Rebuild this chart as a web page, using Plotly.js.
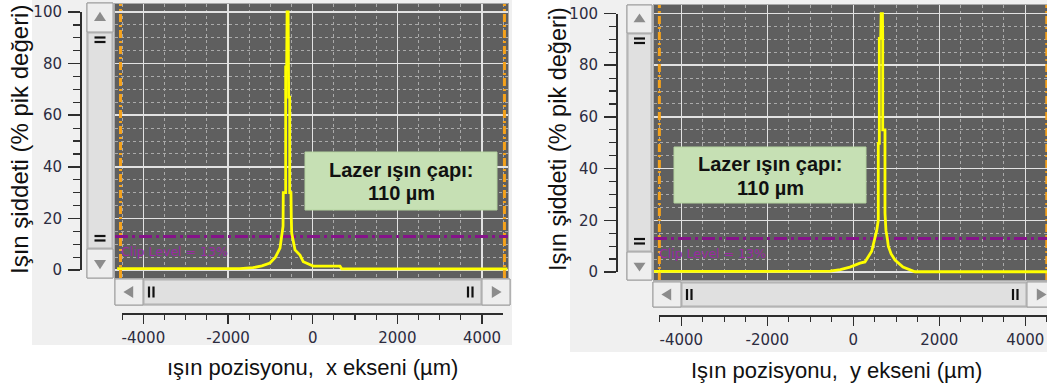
<!DOCTYPE html>
<html><head><meta charset="utf-8">
<script src="https://cdn.plot.ly/plotly-3.0.1.min.js"></script>
<style>html,body{margin:0;padding:0;background:#fff;overflow:hidden;}#chart{width:1047px;height:387px;}</style>
</head><body><div id="chart"></div>
<script>
// ---------------- data ----------------
// beam profile along x axis (µm, % of peak)
const xPosX = [-4620, -1720, -1410, -1200, -1009, -880, -772, -735, -700, -695, -638, -638, -615, -605, -580, -567, -543, -543, -513, -505, -496, -418, -300, -222, 14, 645, 690, 4600];
const intensityX = [0.5, 0.5, 0.9, 1.6, 2.7, 5.0, 8.5, 12, 17, 30, 30, 78.7, 78.7, 100, 100, 67, 67, 30, 30, 20, 14.3, 7.8, 5.8, 3.2, 1.5, 1.5, 0.4, 0.4];
// beam profile along y axis
const xPosY = [-4650, -540, -300, -78, 156, 271, 428, 510, 544, 581, 581, 605, 605, 637, 648, 678, 684, 684, 737, 737, 760, 791, 814, 880, 970, 1156, 1435, 4520];
const intensityY = [0.2, 0.3, 0.9, 1.9, 3.4, 3.9, 8, 13, 16, 20, 49.8, 49.8, 90.4, 90.4, 100, 100, 92, 55, 55, 22.8, 16, 13, 10, 7, 4.6, 1.9, 0.1, 0.1];
const clipLevel = 13;
const cursorsX = [-4540, 4530];
const cursorsY = [-4510, 4500];
const beamDiameter = 110;
const xTickVals = [-4000, -2000, 0, 2000, 4000];
const xTickText = ['-4000', '-2000', '0', '2000', '4000'];
const yTickVals = [0, 20, 40, 60, 80, 100];
const yTickText = ['0', '20', '40', '60', '80', '100'];
const yTitle = 'Işın şiddeti (% pik değeri)';
const xTitleLeft = 'ışın pozisyonu,  x ekseni (µm)';
const xTitleRight = 'Işın pozisyonu,  y ekseni (µm)';
const boxLine1 = 'Lazer ışın çapı:';
const boxLine2 = beamDiameter + ' µm';
const clipText = 'Clip Level = ' + clipLevel + '%';

// ---------------- helpers ----------------
const W = 1047, H = 387;
const fx = v => v / W, fy = v => 1 - v / H;
function rect(x0, y0, x1, y1, fill, line, lw) {
  return {type:'rect', xref:'paper', yref:'paper', x0:fx(x0), x1:fx(x1), y0:fy(y1), y1:fy(y0),
    fillcolor:fill, line:{color:line || fill, width:lw === undefined ? 1 : lw}, layer:'below'};
}
function tri(pts, fill) {
  const d = 'M' + pts.map(p => fx(p[0]) + ',' + fy(p[1])).join(' L') + ' Z';
  return {type:'path', xref:'paper', yref:'paper', path:d, fillcolor:fill, line:{width:0}, layer:'below'};
}
function seg(x0, y0, x1, y1, color, w) {
  return {type:'line', xref:'paper', yref:'paper', x0:fx(x0), y0:fy(y0), x1:fx(x1), y1:fy(y1),
    line:{color:color, width:w}, layer:'below'};
}
const SB_BORDER = '#9c9c9c', SB_BTN = '#eeeeee', SB_THUMB = '#e0e0e0', SB_ARROW = '#8c8c8c';
function vscroll(x0, x1, yT, yB, b) {
  const cx = (x0 + x1) / 2, out = [];
  out.push(rect(x0, yT, x1, yB, '#d6d6d6', SB_BORDER));
  out.push(rect(x0 + 1, yT + b + 1, x1 - 1, yB - b - 1, SB_THUMB, '#b0b0b0'));
  out.push(rect(x0, yT, x1, yT + b, SB_BTN, SB_BORDER));
  out.push(rect(x0, yB - b, x1, yB, SB_BTN, SB_BORDER));
  out.push(tri([[cx - 6, yT + b * 0.62], [cx + 6, yT + b * 0.62], [cx, yT + b * 0.3]], SB_ARROW));
  out.push(tri([[cx - 6, yB - b * 0.62], [cx + 6, yB - b * 0.62], [cx, yB - b * 0.3]], SB_ARROW));
  [yT + b + 5.5, yT + b + 10, yB - b - 13, yB - b - 8.5].forEach(y => out.push(seg(cx - 5.5, y, cx + 5.5, y, '#111', 2.2)));
  return out;
}
function hscroll(xL, xR, y0, y1, b) {
  const cy = (y0 + y1) / 2, out = [];
  out.push(rect(xL, y0, xR, y1, '#d6d6d6', SB_BORDER));
  out.push(rect(xL + b + 1, y0 + 1, xR - b - 1, y1 - 1, SB_THUMB, '#b0b0b0'));
  out.push(rect(xL, y0, xL + b, y1, SB_BTN, SB_BORDER));
  out.push(rect(xR - b, y0, xR, y1, SB_BTN, SB_BORDER));
  out.push(tri([[xL + b * 0.65, cy - 6], [xL + b * 0.65, cy + 6], [xL + b * 0.3, cy]], SB_ARROW));
  out.push(tri([[xR - b * 0.65, cy - 6], [xR - b * 0.65, cy + 6], [xR - b * 0.3, cy]], SB_ARROW));
  [xL + b + 6, xL + b + 10.5, xR - b - 14, xR - b - 9.5].forEach(x => out.push(seg(x, cy - 5.5, x, cy + 5.5, '#111', 2.2)));
  return out;
}

// ---------------- axes ----------------
const TICKFONT = {family:'DejaVu Sans', size:15, color:'#2c2c40'};
function innerX(dom, range, anchor) {
  return {domain:dom, range:range, anchor:anchor, showticklabels:false, ticks:'', tickmode:'linear', tick0:0, dtick:2000,
    showgrid:true, gridcolor:'#e2e2e2', gridwidth:1.5, zeroline:false, showline:true, mirror:true, linecolor:'#a9a9a9', linewidth:1,
    minor:{tickmode:'linear', tick0:0, dtick:500, showgrid:true, gridcolor:'#aaaaaa', gridwidth:1, griddash:'dot'}, fixedrange:true};
}
function innerY(dom, range, anchor) {
  return {domain:dom, range:range, anchor:anchor, showticklabels:false, ticks:'', tickmode:'linear', tick0:0, dtick:20,
    showgrid:true, gridcolor:'#e2e2e2', gridwidth:1.5, zeroline:false, showline:true, mirror:true, linecolor:'#a9a9a9', linewidth:1,
    minor:{tickmode:'linear', tick0:0, dtick:5, showgrid:true, gridcolor:'#aaaaaa', gridwidth:1, griddash:'dot'}, fixedrange:true};
}
function outerX(dom, range, pos) {
  return {domain:dom, range:range, anchor:'free', position:pos, side:'bottom', tickmode:'array', tickvals:xTickVals, ticktext:xTickText,
    ticks:'outside', ticklen:9, tickwidth:1.5, tickcolor:'#2e2e2e', showline:true, linecolor:'#2e2e2e', linewidth:1.5,
    showgrid:false, zeroline:false, tickfont:TICKFONT, ticklabelstandoff:1,
    minor:{tickmode:'linear', tick0:0, dtick:500, ticks:'outside', ticklen:5, tickwidth:1.2, tickcolor:'#2e2e2e', showgrid:false}, fixedrange:true};
}
function outerY(dom, pos) {
  return {domain:dom, range:[0, 100], anchor:'free', position:pos, side:'left', tickmode:'array', tickvals:yTickVals, ticktext:yTickText,
    ticks:'outside', ticklen:12, tickwidth:1.5, tickcolor:'#2e2e2e', showline:true, linecolor:'#2e2e2e', linewidth:1.5,
    showgrid:false, zeroline:false, tickfont:TICKFONT, ticklabelstandoff:3,
    minor:{tickmode:'linear', tick0:0, dtick:5, ticks:'outside', ticklen:7, tickwidth:1.2, tickcolor:'#2e2e2e', showgrid:false}, fixedrange:true};
}

const RANGE_X1 = [-4670, 4614], RANGE_Y1 = [-3.1, 103.1];
const RANGE_X3 = [-4635, 4505], RANGE_Y3 = [-3.1, 103.3];

// ---------------- traces ----------------
const yellow = {color:'#ffff00', width:2.8};
const ORANGE = {color:'#f5a21c', width:3, dash:'8px,3px,2px,3px'};
const PURPLE = {color:'#86138a', width:3, dash:'13px,4px,3px,4px'};
const traces = [];
[['x', 'y', RANGE_X1, RANGE_Y1, cursorsX, xPosX, intensityX], ['x3', 'y3', RANGE_X3, RANGE_Y3, cursorsY, xPosY, intensityY]].forEach(([xa, ya, rx, ry, cur, px, py]) => {
  traces.push({x:rx, y:[clipLevel, clipLevel], xaxis:xa, yaxis:ya, mode:'lines', line:PURPLE, hoverinfo:'skip'});
  cur.forEach(c => traces.push({x:[c, c], y:ry, xaxis:xa, yaxis:ya, mode:'lines', line:ORANGE, hoverinfo:'skip'}));
  traces.push({x:px, y:py, xaxis:xa, yaxis:ya, mode:'lines', line:yellow, hoverinfo:'skip'});
});
traces.push({x:[], y:[], xaxis:'x2', yaxis:'y2', mode:'lines', hoverinfo:'skip'});
traces.push({x:[], y:[], xaxis:'x4', yaxis:'y4', mode:'lines', hoverinfo:'skip'});

// ---------------- shapes ----------------
let shapes = [];
shapes.push(rect(32, 0, 512, 345, '#f0f0f0', '#f0f0f0', 0));
shapes.push(rect(570, 0, 1047, 352, '#f0f0f0', '#f0f0f0', 0));
shapes.push(rect(115, 4, 508, 278, '#5f5f5f', '#5f5f5f', 0));
shapes.push(rect(654, 5, 1060, 280, '#5f5f5f', '#5f5f5f', 0));
shapes = shapes.concat(vscroll(87, 113, 3, 278, 29));
shapes = shapes.concat(hscroll(115, 510, 279, 305, 28));
shapes = shapes.concat(vscroll(627, 652, 5, 280, 28));
shapes = shapes.concat(hscroll(653, 1055, 282, 307, 28));
shapes.push(Object.assign(rect(305, 152, 497, 210, '#c6e0b4', '#b5d4a0', 1), {layer:'above'}));
shapes.push(Object.assign(rect(674, 147, 866, 203, '#c6e0b4', '#b5d4a0', 1), {layer:'above'}));

// ---------------- annotations ----------------
const TITLEFONT = {family:'Liberation Sans, Arial, sans-serif', color:'#111'};
function ann(text, x, y, font, extra) {
  return Object.assign({text:text, xref:'paper', yref:'paper', x:fx(x), y:fy(y), xanchor:'center', yanchor:'middle',
    showarrow:false, font:font}, extra || {});
}
const CLIPFONT = {family:'DejaVu Sans', size:12.5, color:'#9a2aa4'};
const annotations = [
  ann(yTitle, 19, 140, Object.assign({size:24}, TITLEFONT), {textangle:-90}),
  ann(yTitle, 558, 139, Object.assign({size:23.5}, TITLEFONT), {textangle:-90}),
  ann(xTitleLeft, 312, 367, Object.assign({size:22}, TITLEFONT)),
  ann(xTitleRight, 836, 370, Object.assign({size:22}, TITLEFONT)),
  ann('<b>' + boxLine1 + '</b>', 401, 170, Object.assign({size:20}, TITLEFONT)),
  ann('<b>' + boxLine2 + '</b>', 401, 193, Object.assign({size:20}, TITLEFONT)),
  ann('<b>' + boxLine1 + '</b>', 770, 164, Object.assign({size:20}, TITLEFONT)),
  ann('<b>' + boxLine2 + '</b>', 770, 188, Object.assign({size:20}, TITLEFONT)),
  ann(clipText, 119, 251, CLIPFONT, {xanchor:'left'}),
  ann(clipText, 657, 253, CLIPFONT, {xanchor:'left'})
];

// ---------------- layout ----------------
const layout = {
  width:W, height:H, margin:{l:0, r:0, t:0, b:0, pad:0},
  paper_bgcolor:'#ffffff', plot_bgcolor:'rgba(0,0,0,0)', showlegend:false,
  xaxis: innerX([fx(115), fx(508)], RANGE_X1, 'y'),
  yaxis: innerY([fy(278), fy(4)], RANGE_Y1, 'x'),
  xaxis2: outerX([fx(122), fx(503)], [-4505, 4496], fy(313)),
  yaxis2: outerY([fy(270), fy(12)], fx(80)),
  xaxis3: innerX([fx(654), 1], RANGE_X3, 'y3'),
  yaxis3: innerY([fy(280), fy(5)], RANGE_Y3, 'x3'),
  xaxis4: outerX([fx(659), 1], [-4519, 4505], fy(315)),
  yaxis4: outerY([fy(272), fy(13.5)], fx(616)),
  shapes:shapes, annotations:annotations
};
Plotly.newPlot('chart', traces, layout, {staticPlot:true, displayModeBar:false});
</script></body></html>
